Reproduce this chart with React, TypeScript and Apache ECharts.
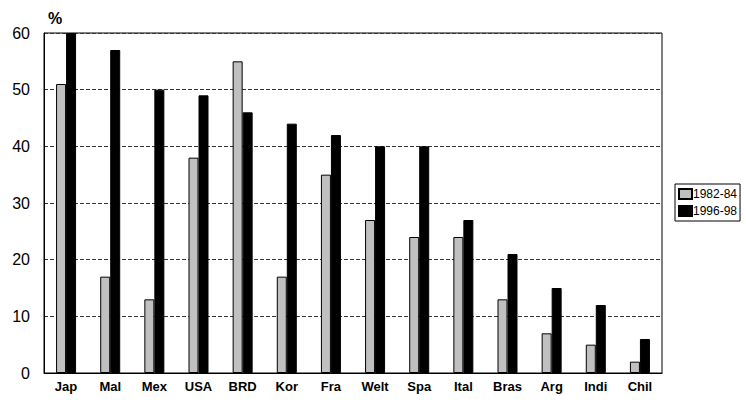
import React, { useEffect, useRef } from "react";
import * as echarts from "echarts";

const categories = ["Jap", "Mal", "Mex", "USA", "BRD", "Kor", "Fra", "Welt", "Spa", "Ital", "Bras", "Arg", "Indi", "Chil"];
const series1982 = [51, 17, 13, 38, 55, 17, 35, 27, 24, 24, 13, 7, 5, 2];
const series1996 = [60, 57, 50, 49, 46, 44, 42, 40, 40, 27, 21, 15, 12, 6];
const yTicks = [0, 10, 20, 30, 40, 50, 60];

export default function App() {
  const ref = useRef<HTMLDivElement>(null);
  useEffect(() => {
    document.body.style.margin = "0";
    const chart = echarts.init(ref.current!, null, { renderer: "svg" });
    chart.setOption({
      animation: false,
      backgroundColor: "#ffffff",
      textStyle: { fontFamily: "Liberation Sans, Arial, sans-serif" },
      title: {
        text: "%",
        left: 43,
        top: 5,
        textStyle: { fontSize: 16, fontWeight: "bold", color: "#000" },
      },
      grid: {
        left: 44,
        right: 84,
        top: 33,
        bottom: 33,
        show: true,
        borderColor: "#000",
        borderWidth: 1,
        backgroundColor: "transparent",
      },
      legend: {
        orient: "vertical",
        left: 675,
        top: 184,
        padding: [4, 3, 4, 3],
        itemGap: 5,
        itemWidth: 13,
        itemHeight: 10,
        borderColor: "#000",
        borderWidth: 1,
        textStyle: { fontSize: 12, color: "#000", padding: [0, 0, 0, -4] },
        data: [
          { name: "1982-84", icon: "rect" },
          { name: "1996-98", icon: "rect" },
        ],
      },
      xAxis: {
        type: "category",
        data: categories,
        axisLine: { lineStyle: { color: "#000" } },
        axisTick: { show: false },
        axisLabel: { fontSize: 13, fontWeight: "bold", color: "#000", margin: 7 },
      },
      yAxis: {
        type: "value",
        min: yTicks[0],
        max: yTicks[yTicks.length - 1],
        interval: 10,
        axisLine: { show: true, lineStyle: { color: "#000" } },
        axisTick: { show: false },
        axisLabel: { fontSize: 16, color: "#000", margin: 14 },
        splitLine: { lineStyle: { color: "#333", type: [4, 2], width: 1 } },
      },
      series: [
        {
          name: "1982-84",
          type: "bar",
          data: series1982,
          barWidth: 10,
          barGap: "0%",
          itemStyle: { color: "#c0c0c0", borderColor: "#000", borderWidth: 1 },
        },
        {
          name: "1996-98",
          type: "bar",
          data: series1996,
          barWidth: 10,
          itemStyle: { color: "#000", borderColor: "#000", borderWidth: 1 },
        },
      ],
    });
    return () => chart.dispose();
  }, []);
  return <div ref={ref} style={{ width: 746, height: 406, position: "absolute", left: 0, top: 0 }} />;
}
